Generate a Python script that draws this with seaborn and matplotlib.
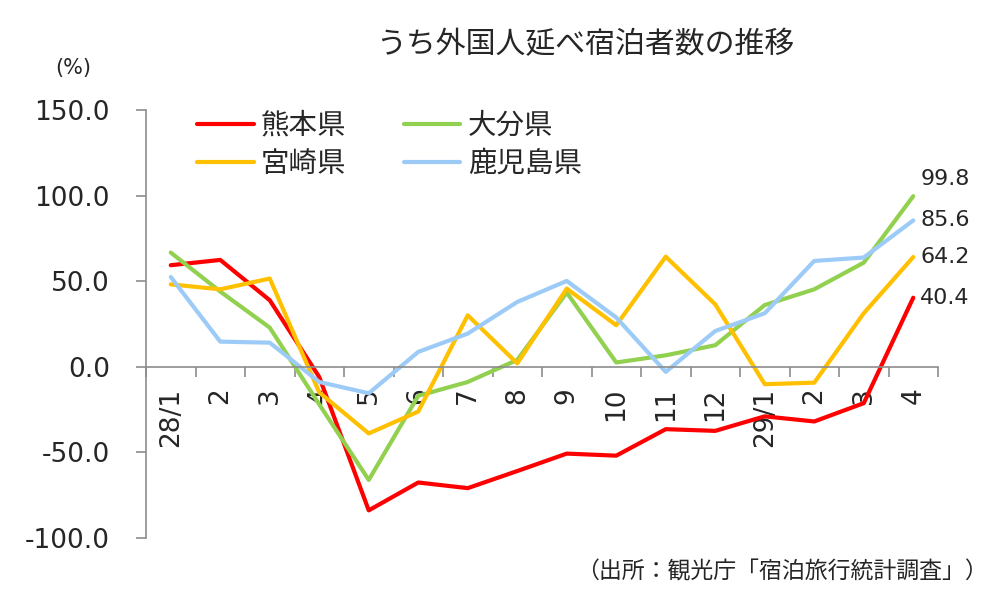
import numpy as np
import pandas as pd
import matplotlib
matplotlib.use("Agg")
import matplotlib.pyplot as plt
import seaborn as sns
from matplotlib.lines import Line2D

months = ["28/1", "2", "3", "4", "5", "6", "7", "8", "9", "10", "11", "12", "29/1", "2", "3", "4"]
kumamoto = [59.4, 62.5, 38.9, -6.0, -84.0, -67.7, -71.0, -61.0, -50.8, -52.0, -36.5, -37.5, -29.0, -32.0, -21.3, 40.4]
oita = [66.8, 44.0, 22.9, -22.0, -66.2, -17.0, -8.9, 4.0, 43.4, 2.5, 6.7, 12.6, 36.1, 45.3, 60.9, 99.8]
miyazaki = [48.2, 45.3, 51.6, -15.0, -39.0, -26.2, 30.1, 2.0, 45.7, 24.3, 64.4, 36.5, -10.2, -9.3, 31.3, 64.2]
kagoshima = [52.5, 14.7, 14.1, -8.9, -15.5, 8.7, 19.4, 37.9, 50.2, 28.8, -3.0, 20.9, 31.3, 61.9, 63.9, 85.6]
series_names = ["熊本県", "大分県", "宮崎県", "鹿児島県"]
colors = ["#FF0000", "#92D050", "#FFC000", "#9DCBF7"]

title = "うち外国人延べ宿泊者数の推移"
source = "（出所：観光庁「宿泊旅行統計調査」）"

sns.set_style("white")
plt.rcParams["font.family"] = ["DejaVu Sans", "Noto Sans CJK JP"]

rows = []
for name, vals in zip(series_names, [kumamoto, oita, miyazaki, kagoshima]):
    for i, v in enumerate(vals):
        rows.append({"idx": i, "value": v, "pref": name})
df = pd.DataFrame(rows)

fig = plt.figure(figsize=(10, 5.97), dpi=100)
ax = fig.add_axes([0.146, 0.0993, 0.792, 0.7159])

sns.lineplot(data=df, x="idx", y="value", hue="pref", hue_order=series_names,
             palette=colors, linewidth=3, ax=ax, legend=False, sort=False)

for s in ["top", "right"]:
    ax.spines[s].set_visible(False)
ax.spines["bottom"].set_position(("data", 0))
ax.spines["left"].set_color("#8C8C8C")
ax.spines["bottom"].set_color("#8C8C8C")
ax.spines["left"].set_linewidth(1.2)
ax.spines["bottom"].set_linewidth(1.2)

ax.set_xlim(-0.5, len(months) - 0.5)
ax.set_ylim(-100, 150)
ax.set_yticks([-100, -50, 0, 50, 100, 150])
ax.set_yticklabels([f"{v:.1f}" for v in [-100, -50, 0, 50, 100, 150]], fontsize=19)
ax.set_xticks(range(len(months)))
ax.set_xticklabels(months, rotation=90, fontsize=19, va="top", ha="center")
ax.set_xticks(np.arange(-0.5, len(months), 1.0), minor=True)
ax.tick_params(axis="x", which="major", length=0, pad=15, bottom=True)
ax.tick_params(axis="x", which="minor", length=7, width=1.2, color="#8C8C8C",
               direction="out", bottom=True)
ax.tick_params(axis="y", length=7, width=1.2, color="#8C8C8C", direction="out", pad=19, left=True)
ax.set_xlabel("")
ax.set_ylabel("")

# end labels
last = len(months) - 1
for vals, off in zip([kumamoto, oita, miyazaki, kagoshima], [0, 12, 0, 0]):
    ax.annotate(f"{vals[-1]:.1f}", xy=(last, vals[-1]), xytext=(5, off),
                textcoords="offset points", ha="left", va="center", fontsize=16)

# legend
handles = [Line2D([0], [0], color=c, lw=3) for c in colors]
order = [0, 2, 1, 3]
fig.legend([handles[i] for i in order], [series_names[i] for i in order],
           ncol=2, loc="upper left", bbox_to_anchor=(0.197, 1 - 112 / 597),
           frameon=False, fontsize=20.5, handlelength=2.0, handletextpad=0.25,
           columnspacing=2.0, labelspacing=0.35, borderpad=0, borderaxespad=0)

fig.text(0.585, 1 - 45 / 597, title, ha="center", va="center", fontsize=21.5)
fig.text(0.073, 1 - 68 / 597, "(%)", ha="center", va="center", fontsize=15)
fig.text(0.988, 1 - 572 / 597, source, ha="right", va="center", fontsize=16.5)

fig.savefig("out.png", dpi=100)
